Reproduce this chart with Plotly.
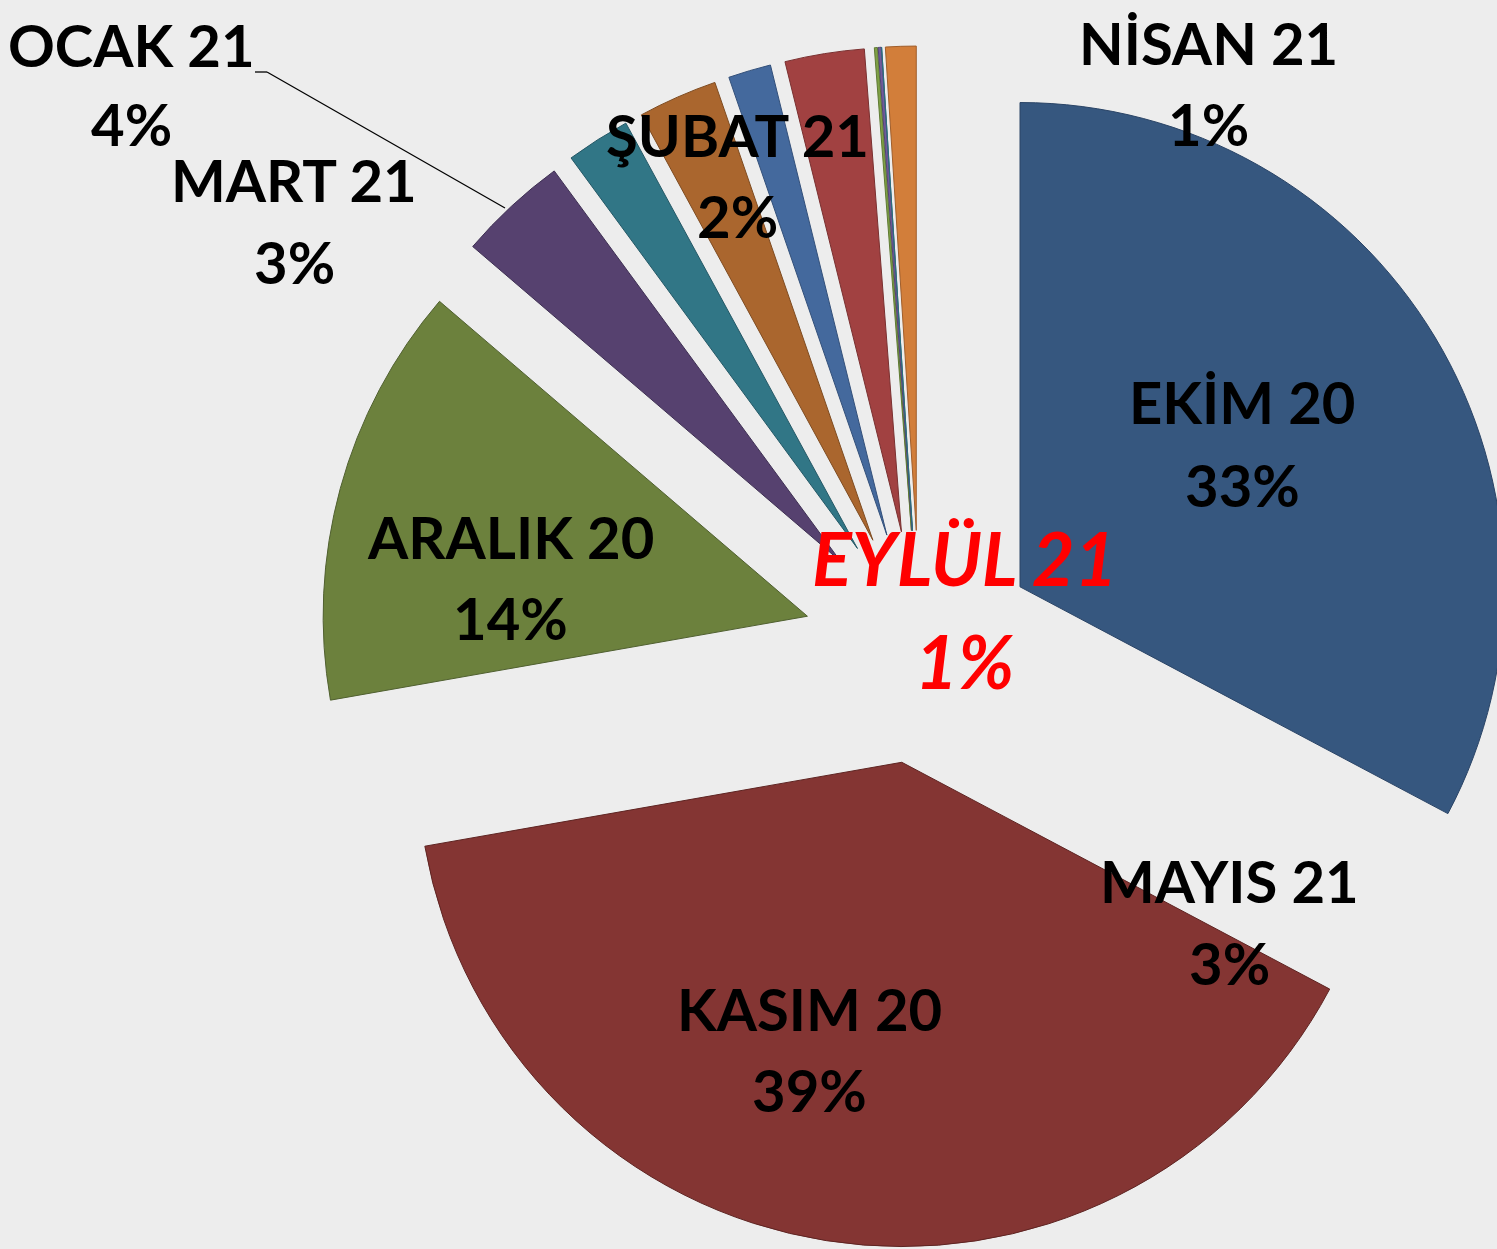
import plotly.graph_objects as go

# ---- data ----
months = ["EKİM 20", "KASIM 20", "ARALIK 20", "OCAK 21", "ŞUBAT 21", "MART 21",
          "NİSAN 21", "MAYIS 21", "HAZİRAN 21", "TEMMUZ 21", "AĞUSTOS 21", "EYLÜL 21"]
values = [32.2, 38.8, 13.8, 3.6, 2.1, 2.6, 1.4, 2.6, 0.1, 0.1, 0.0, 1.0]
colors = ["#36577F", "#843533", "#6C813D", "#56416F", "#317686", "#AA662E",
          "#44699D", "#A14141", "#7FA146", "#6F5B9B", "#3B93A8", "#D27E3A"]
edge_colors = ["#2A4466", "#5E2422", "#506030", "#3E2F52", "#245866", "#7E4B20",
               "#33507A", "#7A3030", "#5F7A33", "#524374", "#2C6E7E", "#A05E2B"]

# label line positions: (x centre, y of name line, y of percent line) in pixels
label_pos = {
    "OCAK 21": (131, 48, 128),
    "MART 21": (294, 183, 265),
    "ŞUBAT 21": (737, 139, 220),
    "NİSAN 21": (1208, 47, 128),
    "EKİM 20": (1242, 405, 488),
    "ARALIK 20": (510, 540, 621),
    "KASIM 20": (809, 1012, 1093),
    "MAYIS 21": (1229, 884, 966),
    "EYLÜL 21": (964, 562, 665),
}
highlight = "EYLÜL 21"

W, H = 1530, 1249          # page viewport is 1497 wide; the pie is clipped at the right like the original
total = sum(values)
pct = {m: round(v / total * 100) for m, v in zip(months, values)}

cx, cy, R = 920, 647, 601   # pie centre and outer extent (incl. pull) in pixels

fig = go.Figure()
fig.add_trace(go.Pie(
    labels=months,
    values=values,
    sort=False,
    direction="clockwise",
    rotation=0,
    pull=[0.241] * len(months),
    marker=dict(colors=colors, line=dict(color=edge_colors, width=1)),
    textinfo="none",
    hoverinfo="label+percent",
    showlegend=False,
    domain=dict(x=[max(0.0, (cx - R) / W), min(1.0, (cx + R) / W)],
                y=[max(0.0, 1 - (cy + R) / H), min(1.0, 1 - (cy - R) / H)]),
))

annotations = []
for m, (px, py1, py2) in label_pos.items():
    if m == highlight:
        font = dict(family="Lato, 'Open Sans', sans-serif", size=74, color="#FF0000")
        lines = [f"<b><i>{m}</i></b>", f"<b><i>{pct[m]}%</i></b>"]
        off = 5
    else:
        font = dict(family="Lato, 'Open Sans', sans-serif", size=58, color="#000000")
        lines = [f"<b>{m}</b>", f"<b>{pct[m]}%</b>"]
        off = 4
    for txt, py in zip(lines, (py1, py2)):
        annotations.append(dict(
            x=px / W, y=1 - (py - off) / H, xref="paper", yref="paper",
            text=txt, showarrow=False, xanchor="center", yanchor="middle",
            align="center", font=font,
        ))

# leader line for OCAK 21
leader = [(255, 72), (267, 72), (505, 208)]
shapes = []
for (x0, y0), (x1, y1) in zip(leader[:-1], leader[1:]):
    shapes.append(dict(type="line", xref="paper", yref="paper",
                       x0=x0 / W, y0=1 - y0 / H, x1=x1 / W, y1=1 - y1 / H,
                       line=dict(color="#000000", width=1.3)))

fig.update_layout(
    width=W, height=H,
    margin=dict(l=0, r=0, t=0, b=0),
    paper_bgcolor="#EDEDED",
    plot_bgcolor="#EDEDED",
    annotations=annotations,
    shapes=shapes,
)

fig.write_html(
    "out.html",
    config={"displayModeBar": False},
    post_script="document.body.style.margin='0px';document.body.style.overflow='hidden';"
                "document.body.style.background='#EDEDED';",
)
